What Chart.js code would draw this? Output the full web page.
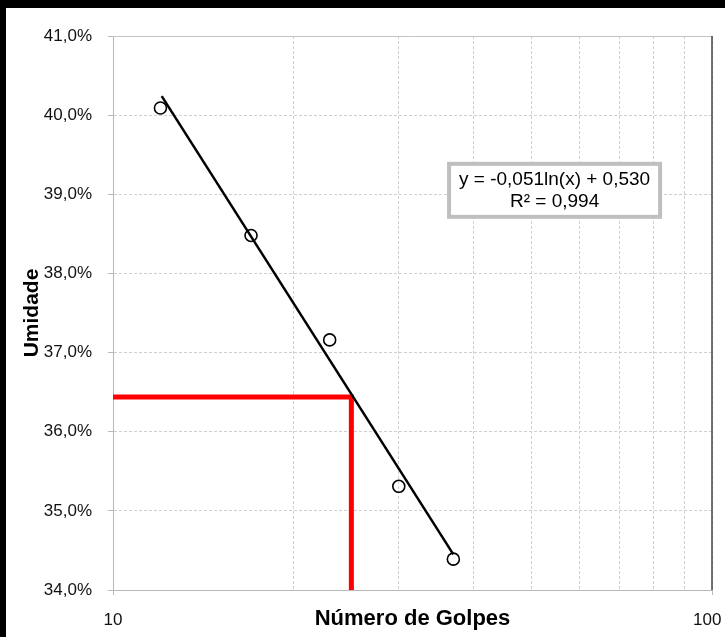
<!DOCTYPE html>
<html>
<head>
<meta charset="utf-8">
<title>Umidade x Número de Golpes</title>
<script src="https://cdn.jsdelivr.net/npm/chart.js@4"></script>
<style>
    body { margin: 0; background: #fff; }
    #wrap { position: relative; width: 725px; height: 637px; overflow: hidden; }
    #chart { position: absolute; left: 0; top: 0; }
    .bar { position: absolute; background: #000; }
</style>
</head>
<body>
<div id="wrap">
    <canvas id="chart" width="725" height="637"></canvas>
    <div class="bar" style="left:0;top:0;width:725px;height:8px"></div>
    <div class="bar" style="left:0;top:0;width:6px;height:637px"></div>
</div>
<script>
// pontos do ensaio (golpes x umidade %)
const golpes = [12, 17, 23, 30, 37];
const umidade = [40.09, 38.48, 37.16, 35.31, 34.39];

// linha de tendencia (extremos)
const trendX = [12.06, 37];
const trendY = [40.24, 34.45];

// linha vermelha: 25 golpes -> umidade
const refX = [10, 25, 25];
const refY = [36.44, 36.44, 34];

// grade do eixo log e rotulos que aparecem
const xGrid = [10, 20, 30, 40, 50, 60, 70, 80, 90, 100];
const xTickLabels = [10, 100];
const equacao = ['y = -0,051ln(x) + 0,530', 'R\u00b2 = 0,994'];
const eqPos = [54.6, 39.05]; // centro da caixa em valores dos eixos

function toPoints(xs, ys) {
    return xs.map((x, i) => ({ x: x, y: ys[i] }));
}

Chart.defaults.font.family = '"Liberation Sans", Arial, sans-serif';
Chart.defaults.color = '#111';

// moldura: linha de cima clara, direita escura + caixa da equacao
const framePlugin = {
    id: 'frame',
    afterDatasetsDraw(chart) {
        const ctx = chart.ctx;
        const a = chart.chartArea;
        ctx.save();
        ctx.strokeStyle = '#c4c4c4';
        ctx.lineWidth = 1;
        ctx.beginPath();
        ctx.moveTo(a.left, a.top + 0.5);
        ctx.lineTo(a.right, a.top + 0.5);
        ctx.stroke();
        ctx.strokeStyle = '#444';
        ctx.lineWidth = 1.5;
        ctx.beginPath();
        ctx.moveTo(a.right, a.top);
        ctx.lineTo(a.right, a.bottom);
        ctx.stroke();

        const cx = chart.scales.x.getPixelForValue(eqPos[0]);
        const cy = chart.scales.y.getPixelForValue(eqPos[1]);
        const w = 211, h = 53;
        ctx.fillStyle = '#fff';
        ctx.fillRect(cx - w / 2, cy - h / 2, w, h);
        ctx.strokeStyle = '#bfbfbf';
        ctx.lineWidth = 4;
        ctx.strokeRect(cx - w / 2, cy - h / 2, w, h);
        ctx.fillStyle = '#000';
        ctx.font = '19px "Liberation Sans", Arial, sans-serif';
        ctx.textAlign = 'center';
        ctx.textBaseline = 'middle';
        ctx.fillText(equacao[0], cx, cy - 11);
        ctx.fillText(equacao[1], cx, cy + 11);
        ctx.restore();
    }
};

const myChart = new Chart(document.getElementById('chart'), {
    type: 'scatter',
    data: {
        datasets: [
            {
                label: 'tendencia',
                type: 'line',
                data: toPoints(trendX, trendY),
                borderColor: '#000',
                borderWidth: 2.5,
                pointRadius: 0,
                fill: false,
                order: 1
            },
            {
                label: 'pontos',
                data: toPoints(golpes, umidade),
                pointStyle: 'circle',
                pointRadius: 6,
                borderWidth: 1.6,
                borderColor: '#000',
                backgroundColor: 'rgba(0,0,0,0)',
                order: 2
            },
            {
                label: '25 golpes',
                type: 'line',
                data: toPoints(refX, refY),
                borderColor: '#ff0000',
                borderWidth: 5,
                borderJoinStyle: 'miter',
                pointRadius: 0,
                fill: false,
                order: 3
            }
        ]
    },
    options: {
        responsive: false,
        animation: false,
        layout: { padding: { top: 36, right: 13, bottom: 0, left: 0 } },
        plugins: {
            legend: { display: false },
            tooltip: { enabled: false }
        },
        scales: {
            x: {
                type: 'logarithmic',
                min: 10,
                max: 100,
                afterBuildTicks: (scale) => { scale.ticks = xGrid.map(v => ({ value: v })); },
                afterFit: (scale) => {
                    scale.height = 47;
                    scale.paddingLeft = 0;
                    scale.paddingRight = 0;
                },
                border: { display: true, color: '#b8b8b8', width: 1, dash: [3, 2] },
                grid: {
                    color: '#cfcfcf',
                    lineWidth: 1,
                    tickLength: 5,
                    tickColor: (c) => (c.tick && xTickLabels.includes(c.tick.value)) ? '#b8b8b8' : 'rgba(0,0,0,0)'
                },
                ticks: {
                    autoSkip: false,
                    maxRotation: 0,
                    padding: 15,
                    font: { size: 17 },
                    // o ultimo rotulo fica puxado para dentro da figura
                    callback: (v) => {
                        if (!xTickLabels.includes(v)) return '';
                        return v === 100 ? '100  ' : String(v);
                    }
                },
                title: {
                    display: true,
                    text: 'Número de Golpes',
                    color: '#000',
                    font: { size: 22, weight: 'bold' },
                    padding: { top: 0, bottom: 5 }
                }
            },
            y: {
                min: 34,
                max: 41,
                afterFit: (scale) => { scale.width = 113; },
                border: { display: true, color: '#b8b8b8', width: 1, dash: [3, 2] },
                grid: {
                    color: '#cfcfcf',
                    lineWidth: 1,
                    tickLength: 5,
                    tickColor: '#b8b8b8'
                },
                ticks: {
                    stepSize: 1,
                    padding: 16,
                    font: { size: 17 },
                    callback: (v) => v.toFixed(1).replace('.', ',') + '%'
                },
                title: {
                    display: true,
                    text: 'Umidade',
                    color: '#000',
                    font: { size: 21, weight: 'bold' },
                    padding: { top: 20, bottom: 0 }
                }
            }
        }
    },
    plugins: [framePlugin]
});
</script>
</body>
</html>
